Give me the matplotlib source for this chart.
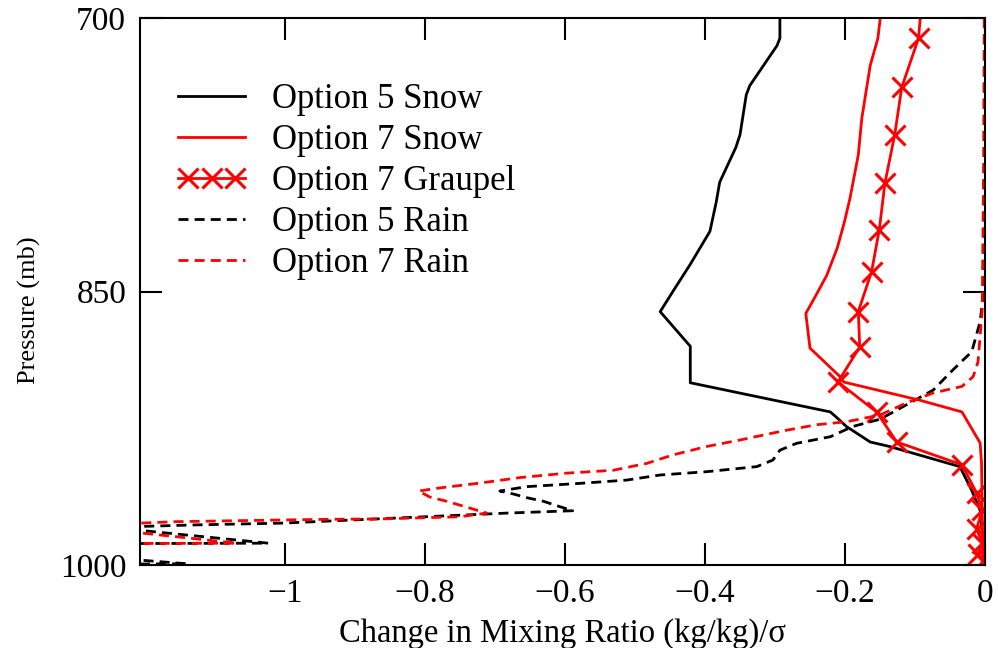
import matplotlib.pyplot as plt
from matplotlib.lines import Line2D
from matplotlib.legend_handler import HandlerLine2D, HandlerTuple

plt.rcParams["font.family"] = ["Liberation Serif", "DejaVu Serif"]

# Option 5 snow (x = change in mixing ratio, p = pressure in mb)
x5_snow = [-0.290, -0.293, -0.293, -0.297, -0.336, -0.341, -0.350, -0.356, -0.379,
           -0.384, -0.393, -0.421, -0.446, -0.464, -0.421, -0.421, -0.221, -0.212,
           -0.198, -0.164, -0.136, -0.036, -0.019, -0.007, -0.003, 0.0]
p5_snow = [690, 700, 711, 715, 737, 742, 764, 771, 790,
           801, 817, 835, 850, 861, 880, 900, 916, 919,
           924, 932.5, 935, 946, 959, 970, 986, 1000]

# Option 7 snow
x7_snow = [-0.148, -0.150, -0.153, -0.164, -0.169, -0.176, -0.181, -0.193, -0.201,
           -0.211, -0.226, -0.240, -0.256, -0.250, -0.207, -0.202, -0.093, -0.033,
           -0.007, -0.005, -0.004, -0.003]
p7_snow = [690, 701, 711, 726, 738, 755, 775, 799, 812,
           826, 841, 851, 862, 881, 896.7, 899.6, 909.6, 916,
           933, 944, 970, 1000]

# Option 7 graupel
x7_graupel = [-0.089, -0.095, -0.119, -0.129, -0.143, -0.151, -0.162, -0.181, -0.179,
              -0.210, -0.155, -0.126, -0.033, -0.012, -0.004, -0.012, -0.004, -0.010,
              -0.003]
p7_graupel = [684, 711, 738, 764, 790.5, 816, 839, 861, 880.4,
              899.6, 916, 932.5, 945, 960.5, 970, 980, 988, 994,
              998]

# Option 5 rain
x5_rain = [-0.001, -0.001, -0.002, -0.007, -0.019, -0.046, -0.074, -0.107, -0.150,
           -0.189, -0.221, -0.269, -0.293, -0.303, -0.326, -0.398, -0.464, -0.512,
           -0.579, -0.655, -0.693, -0.674, -0.655, -0.631, -0.607, -0.589, -0.683,
           -1.004, -1.131, -1.250, -1.024, -1.500, -1.140, -1.500]
p5_rain = [700, 780, 850, 866.5, 883, 893, 904, 911, 920,
           924, 929.6, 933.2, 937, 942.4, 946, 948.8, 950.6, 953.4,
           955.2, 957, 959.4, 961, 963, 965, 968, 970.2, 971.5,
           977, 978, 979.3, 988, 988.5, 999.3, 1000]

# Option 7 rain
x7_rain = [-0.001, -0.002, -0.004, -0.010, -0.017, -0.033, -0.074, -0.112, -0.150,
           -0.198, -0.240, -0.283, -0.303, -0.350, -0.398, -0.446, -0.483, -0.531,
           -0.598, -0.664, -0.721, -0.779, -0.809, -0.793, -0.769, -0.746, -0.712,
           -0.750, -0.864, -0.940, -1.157, -1.300, -1.069, -1.500]
p7_rain = [700, 779, 860, 888.5, 896.7, 902, 905.6, 911, 917.7,
           921.4, 923, 926, 927.6, 931.4, 935, 939.6, 944.2, 948,
           949.6, 952, 955, 957.7, 959.4, 962.7, 965, 967.6, 971.5,
           973.5, 974.7, 974.9, 976.2, 978.5, 988, 988.5]

xticks = [-1, -0.8, -0.6, -0.4, -0.2, 0]
xtick_labels = ["\u22121", "\u22120.8", "\u22120.6", "\u22120.4", "\u22120.2", "0"]
yticks = [700, 850, 1000]

LW = 2.0
DASH = (3.6, 2.2)
MS = 14
MEW = 2.2

fig = plt.figure(figsize=(9.98, 6.48), dpi=100)
ax = fig.add_axes([0.1403, 0.128, 0.8467, 0.844])

h1, = ax.plot(x5_snow, p5_snow, color="black", lw=LW)
h2, = ax.plot(x7_snow, p7_snow, color="red", lw=LW)
ax.plot(x7_graupel, p7_graupel, color="red", lw=LW, marker="x", ms=MS, mew=MEW)
h4, = ax.plot(x5_rain, p5_rain, color="black", lw=LW, dashes=DASH)
h5, = ax.plot(x7_rain, p7_rain, color="red", lw=LW, dashes=DASH)

ax.set_xlim(-1.207, 0)
ax.set_ylim(1000, 700)
ax.set_xticks(xticks)
ax.set_xticklabels(xtick_labels)
ax.set_yticks(yticks)
ax.tick_params(direction="in", length=16, width=1.5, top=True, right=True,
               labelsize=24, pad=10)
for s in ax.spines.values():
    s.set_linewidth(1.5)

ax.set_xlabel("Change in Mixing Ratio (kg/kg)/\u03c3", fontsize=23.5, labelpad=6)
ax.set_ylabel("Pressure (mb)", fontsize=19)
ax.yaxis.set_label_coords(-0.117, 0.466)

# graupel legend entry: full-length line with three markers on top
g_line = Line2D([], [], color="red", lw=LW)
g_marks = Line2D([], [], color="red", ls="none", marker="x", ms=MS, mew=MEW)

ax.legend([h1, h2, (g_line, g_marks), h4, h5],
          ["Option 5 Snow", "Option 7 Snow", "Option 7 Graupel",
           "Option 5 Rain", "Option 7 Rain"],
          handler_map={g_marks: HandlerLine2D(numpoints=3), tuple: HandlerTuple(ndivide=1)},
          loc="upper left", bbox_to_anchor=(0.045, 0.881), frameon=False, fontsize=25,
          handlelength=1.93, handletextpad=0.78, labelspacing=0.23, borderpad=0,
          borderaxespad=0, numpoints=1)

plt.savefig("out.png", dpi=100)
